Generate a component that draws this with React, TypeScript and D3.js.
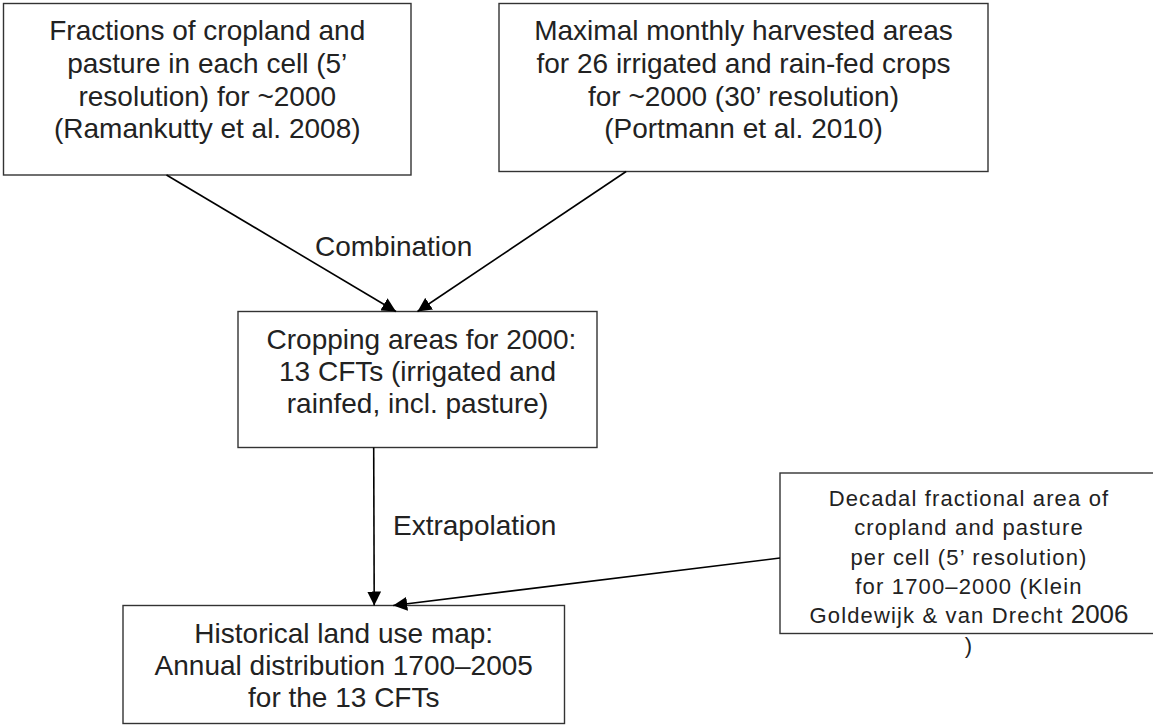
import React, { useEffect, useRef } from 'react';
import * as d3 from 'd3';

// box texts
const cropPastureLines = [
  'Fractions of cropland and',
  'pasture in each cell (5’',
  'resolution) for ~2000',
  '(Ramankutty et al. 2008)',
];
const harvestLines = [
  'Maximal monthly harvested areas',
  'for 26 irrigated and rain-fed crops',
  'for ~2000 (30’ resolution)',
  '(Portmann et al. 2010)',
];
const croppingLines = [' Cropping areas for 2000:', '13 CFTs (irrigated and', 'rainfed, incl. pasture)'];
const historicalLines = ['Historical land use map:', 'Annual distribution 1700–2005', 'for the 13 CFTs'];
// '|' splits the part of a line that is set a bit larger
const hydeLines = [
  'Decadal fractional area of',
  'cropland and pasture',
  'per cell (5’ resolution)',
  'for 1700–2000 (Klein',
  'Goldewijk & van Drecht |2006',
  ')',
];
const edgeLabels = ['Combination', 'Extrapolation'];

const W = 1153;
const H = 725;
const FONT = "'Liberation Sans', Arial, sans-serif";

type Node = {
  id: string;
  lines: string[];
  box: [number, number, number, number];
  size: number;
  gap: number;
  first: number;
  spacing?: number;
};

const nodes: Node[] = [
  { id: 'crop', lines: cropPastureLines, box: [3.5, 3.5, 411, 175], size: 28, gap: 32.8, first: 40 },
  { id: 'harv', lines: harvestLines, box: [499, 3.5, 988, 171.5], size: 28, gap: 32.8, first: 40 },
  { id: 'cftm', lines: croppingLines, box: [238, 311.5, 597, 447.5], size: 28, gap: 32, first: 349 },
  { id: 'hist', lines: historicalLines, box: [123, 605.5, 564.5, 723.5], size: 28, gap: 32, first: 643 },
  { id: 'hyde', lines: hydeLines, box: [780, 473, 1158, 633.5], size: 22, gap: 29.4, first: 505.7, spacing: 1.15 },
];

// edges: from point, to point given as [node, side, fraction along side]
const edges = [
  { from: ['crop', 'bottom', 0.4], to: ['cftm', 'top', 0.44] },
  { from: ['harv', 'bottom', 0.26], to: ['cftm', 'top', 0.5] },
  { from: ['cftm', 'bottom', 0.378], to: ['hist', 'top', 0.569] },
  { from: ['hyde', 'left', 0.53], to: ['hist', 'top', 0.612] },
];
const labelPos = [
  { text: edgeLabels[0], x: 315, y: 256 },
  { text: edgeLabels[1], x: 393, y: 535 },
];

function anchor(id: string, side: string, t: number): [number, number] {
  const n = nodes.find((d) => d.id === id)!;
  const [x0, y0, x1, y1] = n.box;
  if (side === 'bottom') return [x0 + (x1 - x0) * t, y1];
  if (side === 'top') return [x0 + (x1 - x0) * t, y0];
  if (side === 'left') return [x0, y0 + (y1 - y0) * t];
  return [x1, y0 + (y1 - y0) * t];
}

export default function App() {
  const ref = useRef<SVGSVGElement>(null);

  useEffect(() => {
    const svg = d3.select(ref.current);
    svg.selectAll('*').remove();

    svg
      .append('defs')
      .append('marker')
      .attr('id', 'head')
      .attr('markerUnits', 'userSpaceOnUse')
      .attr('viewBox', '0 0 14 14')
      .attr('refX', 14)
      .attr('refY', 7)
      .attr('markerWidth', 14)
      .attr('markerHeight', 14)
      .attr('orient', 'auto')
      .append('path')
      .attr('d', 'M0,0 L14,7 L0,14 Z')
      .attr('fill', '#000');

    // boxes
    const g = svg
      .selectAll('g.node')
      .data(nodes)
      .join('g')
      .attr('class', 'node');

    g.append('rect')
      .attr('x', (d) => d.box[0])
      .attr('y', (d) => d.box[1])
      .attr('width', (d) => d.box[2] - d.box[0])
      .attr('height', (d) => d.box[3] - d.box[1])
      .attr('fill', '#fff')
      .attr('stroke', '#333')
      .attr('stroke-width', 1.4);

    g.each(function (d) {
      const cx = (d.box[0] + d.box[2]) / 2;
      const text = d3
        .select(this)
        .append('text')
        .attr('text-anchor', 'middle')
        .attr('font-family', FONT)
        .attr('font-size', d.size)
        .attr('fill', '#222')
        .style('white-space', 'pre')
        .style('letter-spacing', d.spacing ? `${d.spacing}px` : null);
      d.lines.forEach((line, i) => {
        const parts = line.split('|');
        const tl = text
          .append('tspan')
          .attr('x', cx)
          .attr('y', d.first + i * d.gap);
        tl.text(parts[0]);
        if (parts[1]) {
          text
            .append('tspan')
            .attr('font-size', d.size * 1.18)
            .style('letter-spacing', '0px')
            .text(parts[1]);
        }
      });
    });

    // arrows
    svg
      .selectAll('line.edge')
      .data(edges)
      .join('line')
      .attr('class', 'edge')
      .attr('x1', (d) => anchor(d.from[0] as string, d.from[1] as string, d.from[2] as number)[0])
      .attr('y1', (d) => anchor(d.from[0] as string, d.from[1] as string, d.from[2] as number)[1])
      .attr('x2', (d) => anchor(d.to[0] as string, d.to[1] as string, d.to[2] as number)[0])
      .attr('y2', (d) => anchor(d.to[0] as string, d.to[1] as string, d.to[2] as number)[1])
      .attr('stroke', '#000')
      .attr('stroke-width', 1.6)
      .attr('marker-end', 'url(#head)');

    svg
      .selectAll('text.label')
      .data(labelPos)
      .join('text')
      .attr('class', 'label')
      .attr('x', (d) => d.x)
      .attr('y', (d) => d.y)
      .attr('font-family', FONT)
      .attr('font-size', 28)
      .attr('fill', '#222')
      .text((d) => d.text);
  }, []);

  return (
    <svg
      ref={ref}
      width={W}
      height={H}
      style={{ position: 'absolute', left: 0, top: 0, background: '#fff' }}
    />
  );
}
